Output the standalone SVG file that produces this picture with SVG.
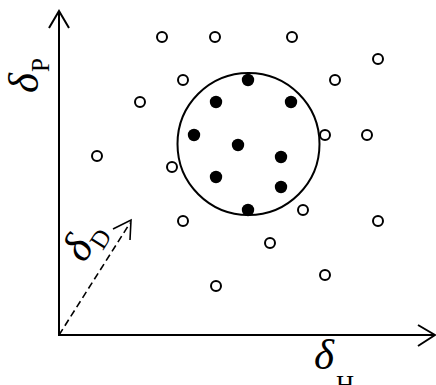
<svg xmlns="http://www.w3.org/2000/svg" width="436" height="385" viewBox="0 0 436 385">
<style>
.ax{stroke:#000;stroke-width:2;fill:none}
.open{fill:#fff;stroke:#000;stroke-width:2}
.full{fill:#000}
.lbl{font-family:"Liberation Serif",serif;font-size:43px;font-style:italic;fill:#000}
.sub{font-style:normal;font-size:25px}
</style>
<rect width="436" height="385" fill="#fff"/>
<g id="connectors">
<line class="ax" x1="59" y1="11" x2="59" y2="336"/>
<polyline class="ax" points="49,28 59,11 69,28"/>
<line class="ax" x1="58" y1="335" x2="434" y2="335"/>
<polyline class="ax" points="418,325 435,335 418,346"/>
<line x1="59" y1="335" x2="130" y2="223" stroke="#000" stroke-width="1.6" stroke-dasharray="7 4"/>
<polyline points="113,229 131,220 130,240" fill="none" stroke="#000" stroke-width="1.6"/>
</g>
<g id="labels">
<text class="lbl" transform="translate(38,93) rotate(-90)">δ<tspan class="sub" dx="1" dy="11">P</tspan></text>
<text class="lbl" x="314" y="369">δ<tspan class="sub" dx="2" dy="24">H</tspan></text>
<text class="lbl" transform="translate(84,264) rotate(-57.6)">δ<tspan class="sub" dx="1" dy="9">D</tspan></text>
</g>
<g id="cluster">
<circle cx="248.5" cy="144" r="71" class="ax"/>
</g>
<g id="filled-points">
<circle class="full" cx="248" cy="80" r="6.2"/>
<circle class="full" cx="216" cy="102" r="6.2"/>
<circle class="full" cx="291" cy="102" r="6.2"/>
<circle class="full" cx="194" cy="135" r="6.2"/>
<circle class="full" cx="238" cy="145" r="6.2"/>
<circle class="full" cx="281" cy="157" r="6.2"/>
<circle class="full" cx="216" cy="177" r="6.2"/>
<circle class="full" cx="281" cy="187" r="6.2"/>
<circle class="full" cx="248" cy="210" r="6.2"/>
</g>
<g id="open-points">
<circle class="open" cx="162" cy="37" r="5"/>
<circle class="open" cx="215" cy="37" r="5"/>
<circle class="open" cx="292" cy="37" r="5"/>
<circle class="open" cx="378" cy="59" r="5"/>
<circle class="open" cx="183" cy="80" r="5"/>
<circle class="open" cx="335" cy="80" r="5"/>
<circle class="open" cx="140" cy="102" r="5"/>
<circle class="open" cx="325" cy="135" r="5"/>
<circle class="open" cx="367" cy="135" r="5"/>
<circle class="open" cx="97" cy="156" r="5"/>
<circle class="open" cx="172" cy="167" r="5"/>
<circle class="open" cx="303" cy="210" r="5"/>
<circle class="open" cx="183" cy="221" r="5"/>
<circle class="open" cx="378" cy="221" r="5"/>
<circle class="open" cx="270" cy="243" r="5"/>
<circle class="open" cx="325" cy="275" r="5"/>
<circle class="open" cx="216" cy="286" r="5"/>
</g>
</svg>
